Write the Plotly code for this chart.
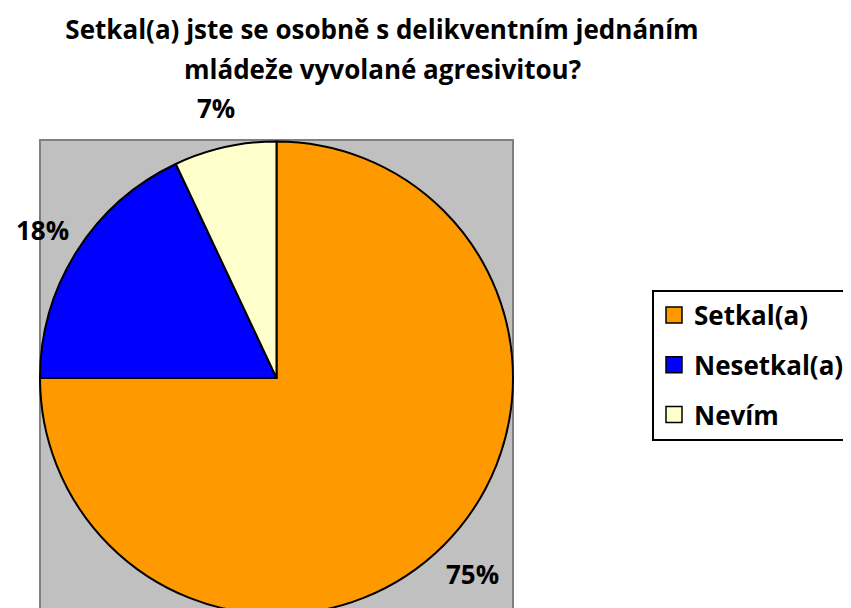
import math
import plotly.graph_objects as go

labels = ["Setkal(a)", "Nesetkal(a)", "Nevím"]
values = [75, 18, 7]
colors = ["#FF9900", "#0000FF", "#FFFFCC"]
title_lines = ["Setkal(a) jste se osobně s delikventním jednáním", "mládeže vyvolané agresivitou?"]

FONT = "Open Sans"
W, H = 851, 608
OFF = 8  # default body margin of the html page


def fx(px):
    return (px - OFF) / W


def fy(py):
    return 1 - (py - OFF) / H


dom_x = [fx(40), fx(513)]
dom_y = [0, fy(140)]

fig = go.Figure()
fig.add_trace(go.Pie(
    labels=labels, values=values, sort=False, direction="clockwise", rotation=0,
    marker=dict(colors=colors, line=dict(color="black", width=2)),
    textinfo="none", domain=dict(x=dom_x, y=dom_y),
    hoverinfo="label+percent", showlegend=False,
))

# legend entries (square swatches, wider spacing than the pie's own legend)
for i, (lab, col) in enumerate(zip(labels, colors)):
    fig.add_trace(go.Scatter(
        x=[None], y=[None], mode="markers", name=lab, legendgroup=f"g{i}",
        marker=dict(symbol="square", size=19, color=col, line=dict(color="black", width=1.5)),
    ))

# percentage labels outside the slices, placed at each slice's mid-angle
cx = (dom_x[0] + dom_x[1]) / 2 * W
cy = (1 - (dom_y[0] + dom_y[1]) / 2) * H
r = min((dom_x[1] - dom_x[0]) * W, (dom_y[1] - dom_y[0]) * H) / 2
total = sum(values)
cum = 0
for v in values:
    mid = (cum + v / 2) / total * 2 * math.pi
    cum += v
    px = cx + 1.17 * r * math.sin(mid)
    py = cy - 1.17 * r * math.cos(mid)
    fig.add_annotation(x=px / W, y=1 - py / H, xref="paper", yref="paper",
                       xanchor="center", yanchor="middle",
                       text=f"<b>{round(100 * v / total)}%</b>", showarrow=False,
                       font=dict(family=FONT, size=26, color="black"))

# gray plot-area box behind the pie
fig.add_shape(type="rect", xref="paper", yref="paper", layer="below",
              x0=dom_x[0], x1=dom_x[1], y0=-0.02, y1=dom_y[1],
              fillcolor="#C0C0C0", line=dict(color="#808080", width=2))

fig.add_annotation(x=fx(382), y=fy(69), xref="paper", yref="paper", showarrow=False,
                   xanchor="center", yanchor="middle",
                   text=f"<b>{title_lines[1]}</b>", font=dict(family=FONT, size=26, color="black"))

fig.update_layout(
    width=W, height=H, margin=dict(l=0, r=0, t=0, b=0),
    paper_bgcolor="white", plot_bgcolor="white",
    xaxis=dict(visible=False), yaxis=dict(visible=False),
    title=dict(text=f"<b>{title_lines[0]}</b>", x=fx(382), xanchor="center",
               y=fy(30), yanchor="middle",
               font=dict(family=FONT, size=26, color="black")),
    legend=dict(x=fx(652), xanchor="left", y=fy(365), yanchor="middle",
                bordercolor="black", borderwidth=2, bgcolor="white", tracegroupgap=13,
                font=dict(family=FONT, size=26, color="black", weight="bold")),
    showlegend=True,
)

fig.write_html("out.html")
